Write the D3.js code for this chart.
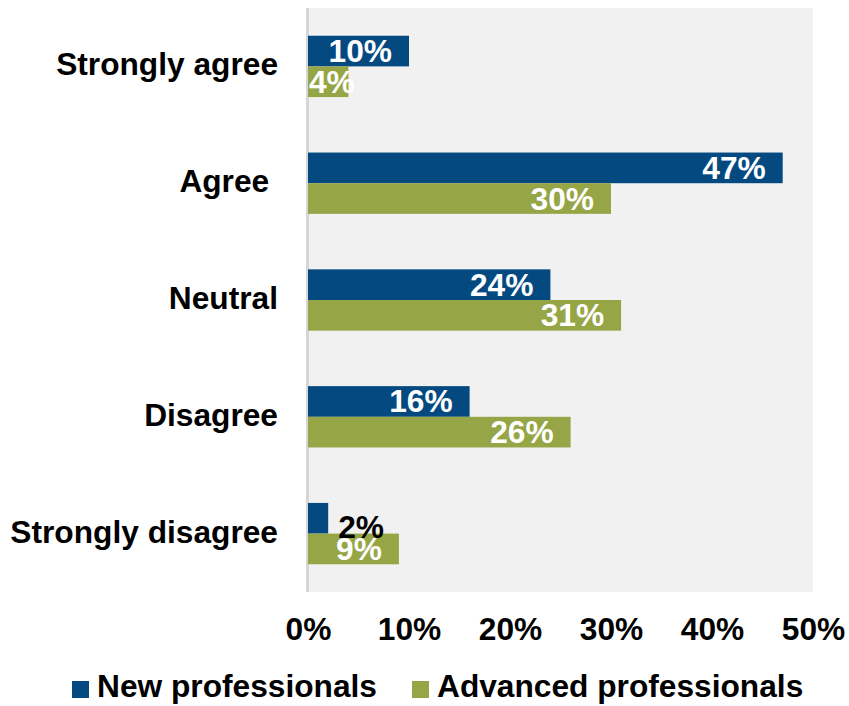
<!DOCTYPE html>
<html>
<head>
<meta charset="utf-8">
<script src="https://cdn.jsdelivr.net/npm/d3@7"></script>
<style>
  html, body { margin: 0; padding: 0; background: #fff; }
  svg { display: block; }
  text { font-family: "Liberation Sans", Arial, sans-serif; font-weight: bold; }
</style>
</head>
<body>
<svg id="chart" width="849" height="706"></svg>
<script>
// Survey responses by career stage (share of respondents, %)
const categories = ["Strongly agree", "Agree ", "Neutral", "Disagree", "Strongly disagree"];
const seriesNames = ["New professionals", "Advanced professionals"];
const newProfessionals = [10, 47, 24, 16, 2];
const advancedProfessionals = [4, 30, 31, 26, 9];
const xTicks = [0, 10, 20, 30, 40, 50];

const colors = { "New professionals": "#044a80", "Advanced professionals": "#96a546" };
const fontSize = 31.7;

const plot = { left: 308, right: 813, top: 8, bottom: 592 };
const svg = d3.select("#chart");

const x = d3.scaleLinear().domain([0, 50]).range([plot.left, plot.right]);
const y = d3.scaleBand().domain(categories).range([plot.top, plot.bottom])
  .paddingInner(0.475).paddingOuter(0.2375);
const ySub = d3.scaleBand().domain(seriesNames).range([0, y.bandwidth()]);

const rows = categories.map((c, i) => ({
  category: c,
  values: [
    { series: seriesNames[0], value: newProfessionals[i] },
    { series: seriesNames[1], value: advancedProfessionals[i] }
  ]
}));

// plot background
svg.append("rect")
  .attr("x", plot.left - 1).attr("y", plot.top)
  .attr("width", plot.right - plot.left + 1).attr("height", plot.bottom - plot.top)
  .attr("fill", "#f1f1f1");

// vertical category axis line
svg.append("line")
  .attr("x1", plot.left - 0.5).attr("x2", plot.left - 0.5)
  .attr("y1", plot.top).attr("y2", plot.bottom)
  .attr("stroke", "#d6d6d6").attr("stroke-width", 3);

// bars
const groups = svg.append("g").selectAll("g").data(rows).join("g")
  .attr("transform", d => `translate(0,${y(d.category)})`);

groups.selectAll("rect").data(d => d.values).join("rect")
  .attr("x", x(0))
  .attr("y", d => ySub(d.series))
  .attr("width", d => x(d.value) - x(0))
  .attr("height", ySub.bandwidth())
  .attr("fill", d => colors[d.series]);

// value labels: inside the bar end, or outside when the bar is too short
groups.selectAll("text.val").data(d => d.values).join("text")
  .attr("class", "val")
  .attr("font-size", fontSize)
  .text(d => d.value + "%")
  .each(function(d) {
    const t = d3.select(this);
    const w = this.getComputedTextLength();
    const end = x(d.value);
    const cy = ySub(d.series) + ySub.bandwidth() / 2;
    if (d.value < 3) {
      t.attr("x", end + 10).attr("y", cy + 20).attr("fill", "#000");
    } else {
      const start = Math.max(x(0) + 1, end - 17 - w);
      t.attr("x", start).attr("y", cy + 11).attr("fill", "#fff");
    }
  });

// category labels
svg.append("g").selectAll("text").data(categories).join("text")
  .attr("x", 278)
  .attr("y", d => y(d) + y.bandwidth() / 2 + 9)
  .attr("text-anchor", "end")
  .attr("font-size", fontSize)
  .style("white-space", "pre")
  .attr("fill", "#000")
  .text(d => d);

// value axis
const xAxis = d3.axisBottom(x).tickValues(xTicks).tickFormat(d => d + "%").tickSize(0).tickPadding(0);
const gx = svg.append("g").attr("transform", `translate(0,${plot.bottom})`).call(xAxis);
gx.select(".domain").remove();
gx.selectAll("text")
  .attr("font-size", fontSize)
  .attr("font-family", "'Liberation Sans', Arial, sans-serif")
  .attr("font-weight", "bold")
  .attr("fill", "#000")
  .attr("dy", null)
  .attr("y", 48);

// legend
const legendItems = [
  { name: seriesNames[0], x: 72 },
  { name: seriesNames[1], x: 412 }
];
const lg = svg.append("g").selectAll("g").data(legendItems).join("g")
  .attr("transform", d => `translate(${d.x},681)`);
lg.append("rect").attr("width", 17).attr("height", 17).attr("fill", d => colors[d.name]);
lg.append("text").attr("x", 25).attr("y", 16).attr("font-size", fontSize).attr("fill", "#000").text(d => d.name);
</script>
</body>
</html>
